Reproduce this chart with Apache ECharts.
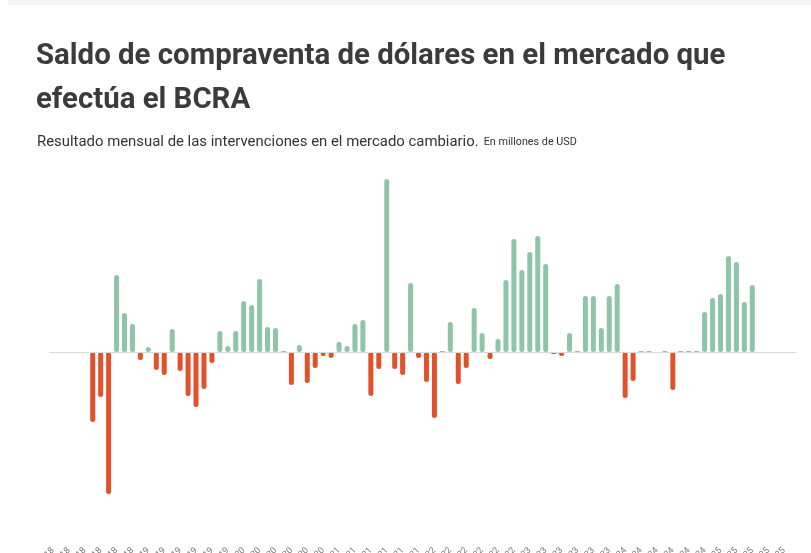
<!DOCTYPE html>
<html>
<head>
<meta charset="utf-8">
<script src="https://cdn.jsdelivr.net/npm/echarts@6/dist/echarts.min.js"></script>
<style>
html,body{margin:0;padding:0;background:#fff;}
#chart{width:811px;height:553px;}
</style>
</head>
<body>
<div id="chart"></div>
<script>
// Month names and the first year of the axis (categories)
const monthNames = ["ene", "feb", "mar", "abr", "may", "jun", "jul", "ago", "sep", "oct", "nov", "dic"];
const startYear = 2018;
const totalMonths = 94;     // months shown on the axis
const leadingEmpty = 5;     // months without data before the first bar

// Monthly balance, millions of USD
const saldo = [
  -1400, -900, -2840, 1540, 780, 560, -160, 100, -360, -460,
  460, -380, -880, -1100, -740, -220, 420, 120, 420, 1020,
  940, 1460, 500, 480, 20, -660, 140, -620, -320, -80,
  -120, 200, 120, 560, 640, -880, -340, 3460, -340, -460,
  1380, -120, -600, -1320, 20, 600, -640, -320, 880, 380,
  -140, 260, 1440, 2260, 1640, 2000, 2320, 1760, -40, -80,
  380, 20, 1120, 1120, 480, 1120, 1360, -920, -580, 20,
  20, -20, 20, -760, 20, 20, 20, 800, 1080, 1160,
  1920, 1800, 1000, 1340
];

const titleText = "Saldo de compraventa de dólares en el mercado que\nefectúa el BCRA";
const subtitleMain = "Resultado mensual de las intervenciones en el mercado cambiario.";
const subtitleUnit = "En millones de USD";

const categories = [];
for (let i = 0; i < totalMonths; i++) {
  const y = startYear + Math.floor(i / 12);
  categories.push(monthNames[i % 12] + ". " + String(y).slice(2));
}
const seriesData = [];
for (let i = 0; i < totalMonths; i++) {
  const k = i - leadingEmpty;
  seriesData.push(k >= 0 && k < saldo.length ? saldo[k] : null);
}

const chart = echarts.init(document.getElementById('chart'), null, {renderer: 'canvas'});
chart.setOption({
  animation: false,
  backgroundColor: '#ffffff',
  graphic: [{
    type: 'rect', left: 8, top: 0, shape: {width: 803, height: 5},
    style: {fill: '#f4f4f4'}, silent: true
  }],
  title: [{
    text: titleText,
    left: 36, top: 35, padding: 0,
    textStyle: {fontFamily: 'Roboto', fontWeight: 'bold', fontSize: 29.4, color: '#3b3b3b', lineHeight: 44}
  }, {
    text: '{a|' + subtitleMain + '} {b|' + subtitleUnit + '}',
    left: 37, top: 133, padding: 0,
    textStyle: {
      rich: {
        a: {fontFamily: 'Roboto', fontSize: 14.9, color: '#333', fontWeight: 'normal'},
        b: {fontFamily: 'Roboto', fontSize: 10.8, color: '#333', fontWeight: 'normal'}
      }
    }
  }],
  grid: {left: 49, right: 15, top: 170, bottom: 12, containLabel: false, outerBoundsMode: 'none'},
  xAxis: {
    type: 'category',
    data: categories,
    boundaryGap: true,
    axisLine: {show: false},
    axisTick: {show: false},
    splitLine: {show: false},
    axisLabel: {rotate: 45, interval: 1, fontSize: 9, color: '#777', margin: 8, fontFamily: 'Roboto', hideOverlap: false}
  },
  yAxis: {
    type: 'value',
    min: -3780, max: 3640,
    show: false,
    splitLine: {show: false}
  },
  series: [{
    type: 'bar',
    data: seriesData,
    barWidth: 5,
    itemStyle: {
      borderRadius: 2.5,
      color: function (p) { return p.value >= 0 ? '#8ec4a7' : '#e2522a'; }
    },
    markLine: {
      silent: true,
      symbol: ['none', 'none'],
      label: {show: false},
      lineStyle: {color: '#d9d9d9', width: 1, type: 'solid'},
      data: [{yAxis: 0}]
    },
    z: 3
  }]
});
</script>
</body>
</html>
